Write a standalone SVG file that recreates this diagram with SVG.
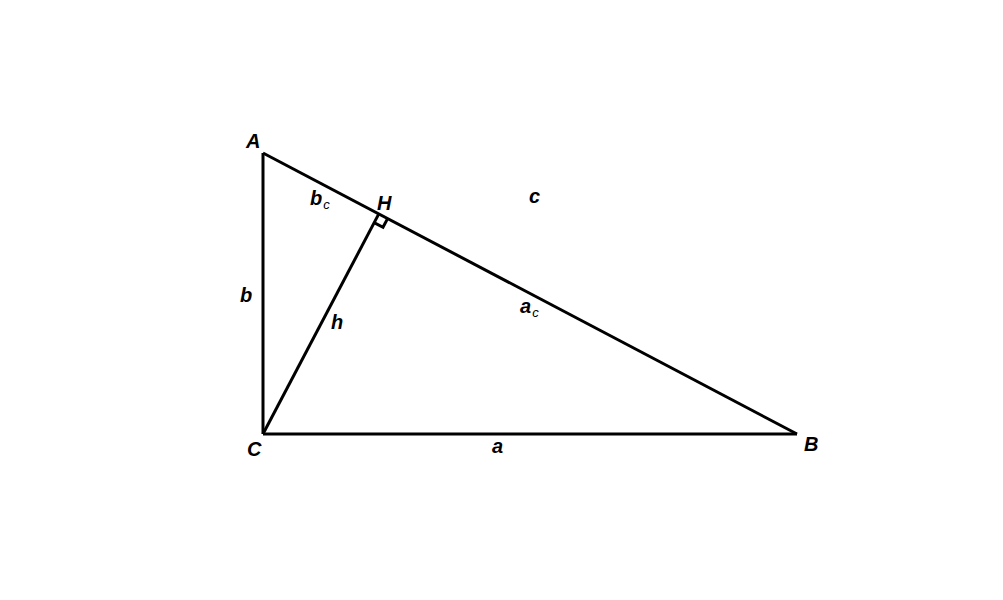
<svg xmlns="http://www.w3.org/2000/svg" width="1003" height="600" viewBox="0 0 1003 600">
<style>
.ln{stroke:#000;stroke-width:3;fill:none;stroke-linecap:butt;stroke-linejoin:miter}
.lb{font-family:"Liberation Sans",Arial,sans-serif;font-weight:bold;font-style:italic;font-size:20px;fill:#000}
.sub{font-size:13px;font-weight:normal}
</style>
<rect width="1003" height="600" fill="#fff"/>
<g id="connectors">
<line class="ln" x1="263" y1="153" x2="263" y2="434"/>
<line class="ln" x1="263" y1="434" x2="797" y2="434"/>
<line class="ln" x1="263" y1="153" x2="797" y2="434"/>
<line class="ln" x1="263" y1="434" x2="378.8" y2="213.9"/>
<polyline class="ln" stroke-width="2" points="387.6,218.6 383,227.3 374.1,222.7"/>
</g>
<g id="node-A"><text class="lb" x="246" y="148">A</text></g>
<g id="node-B"><text class="lb" x="804" y="451">B</text></g>
<g id="node-C"><text class="lb" x="247" y="456">C</text></g>
<g id="node-H"><text class="lb" x="377" y="210">H</text></g>
<g id="label-b"><text class="lb" x="240" y="302">b</text></g>
<g id="label-h"><text class="lb" x="331" y="329">h</text></g>
<g id="label-a"><text class="lb" x="492" y="453">a</text></g>
<g id="label-c"><text class="lb" x="529" y="203">c</text></g>
<g id="label-bc"><text class="lb" x="310" y="205">b<tspan class="sub" dx="1" dy="4">c</tspan></text></g>
<g id="label-ac"><text class="lb" x="520" y="313">a<tspan class="sub" dx="1" dy="4">c</tspan></text></g>
</svg>
